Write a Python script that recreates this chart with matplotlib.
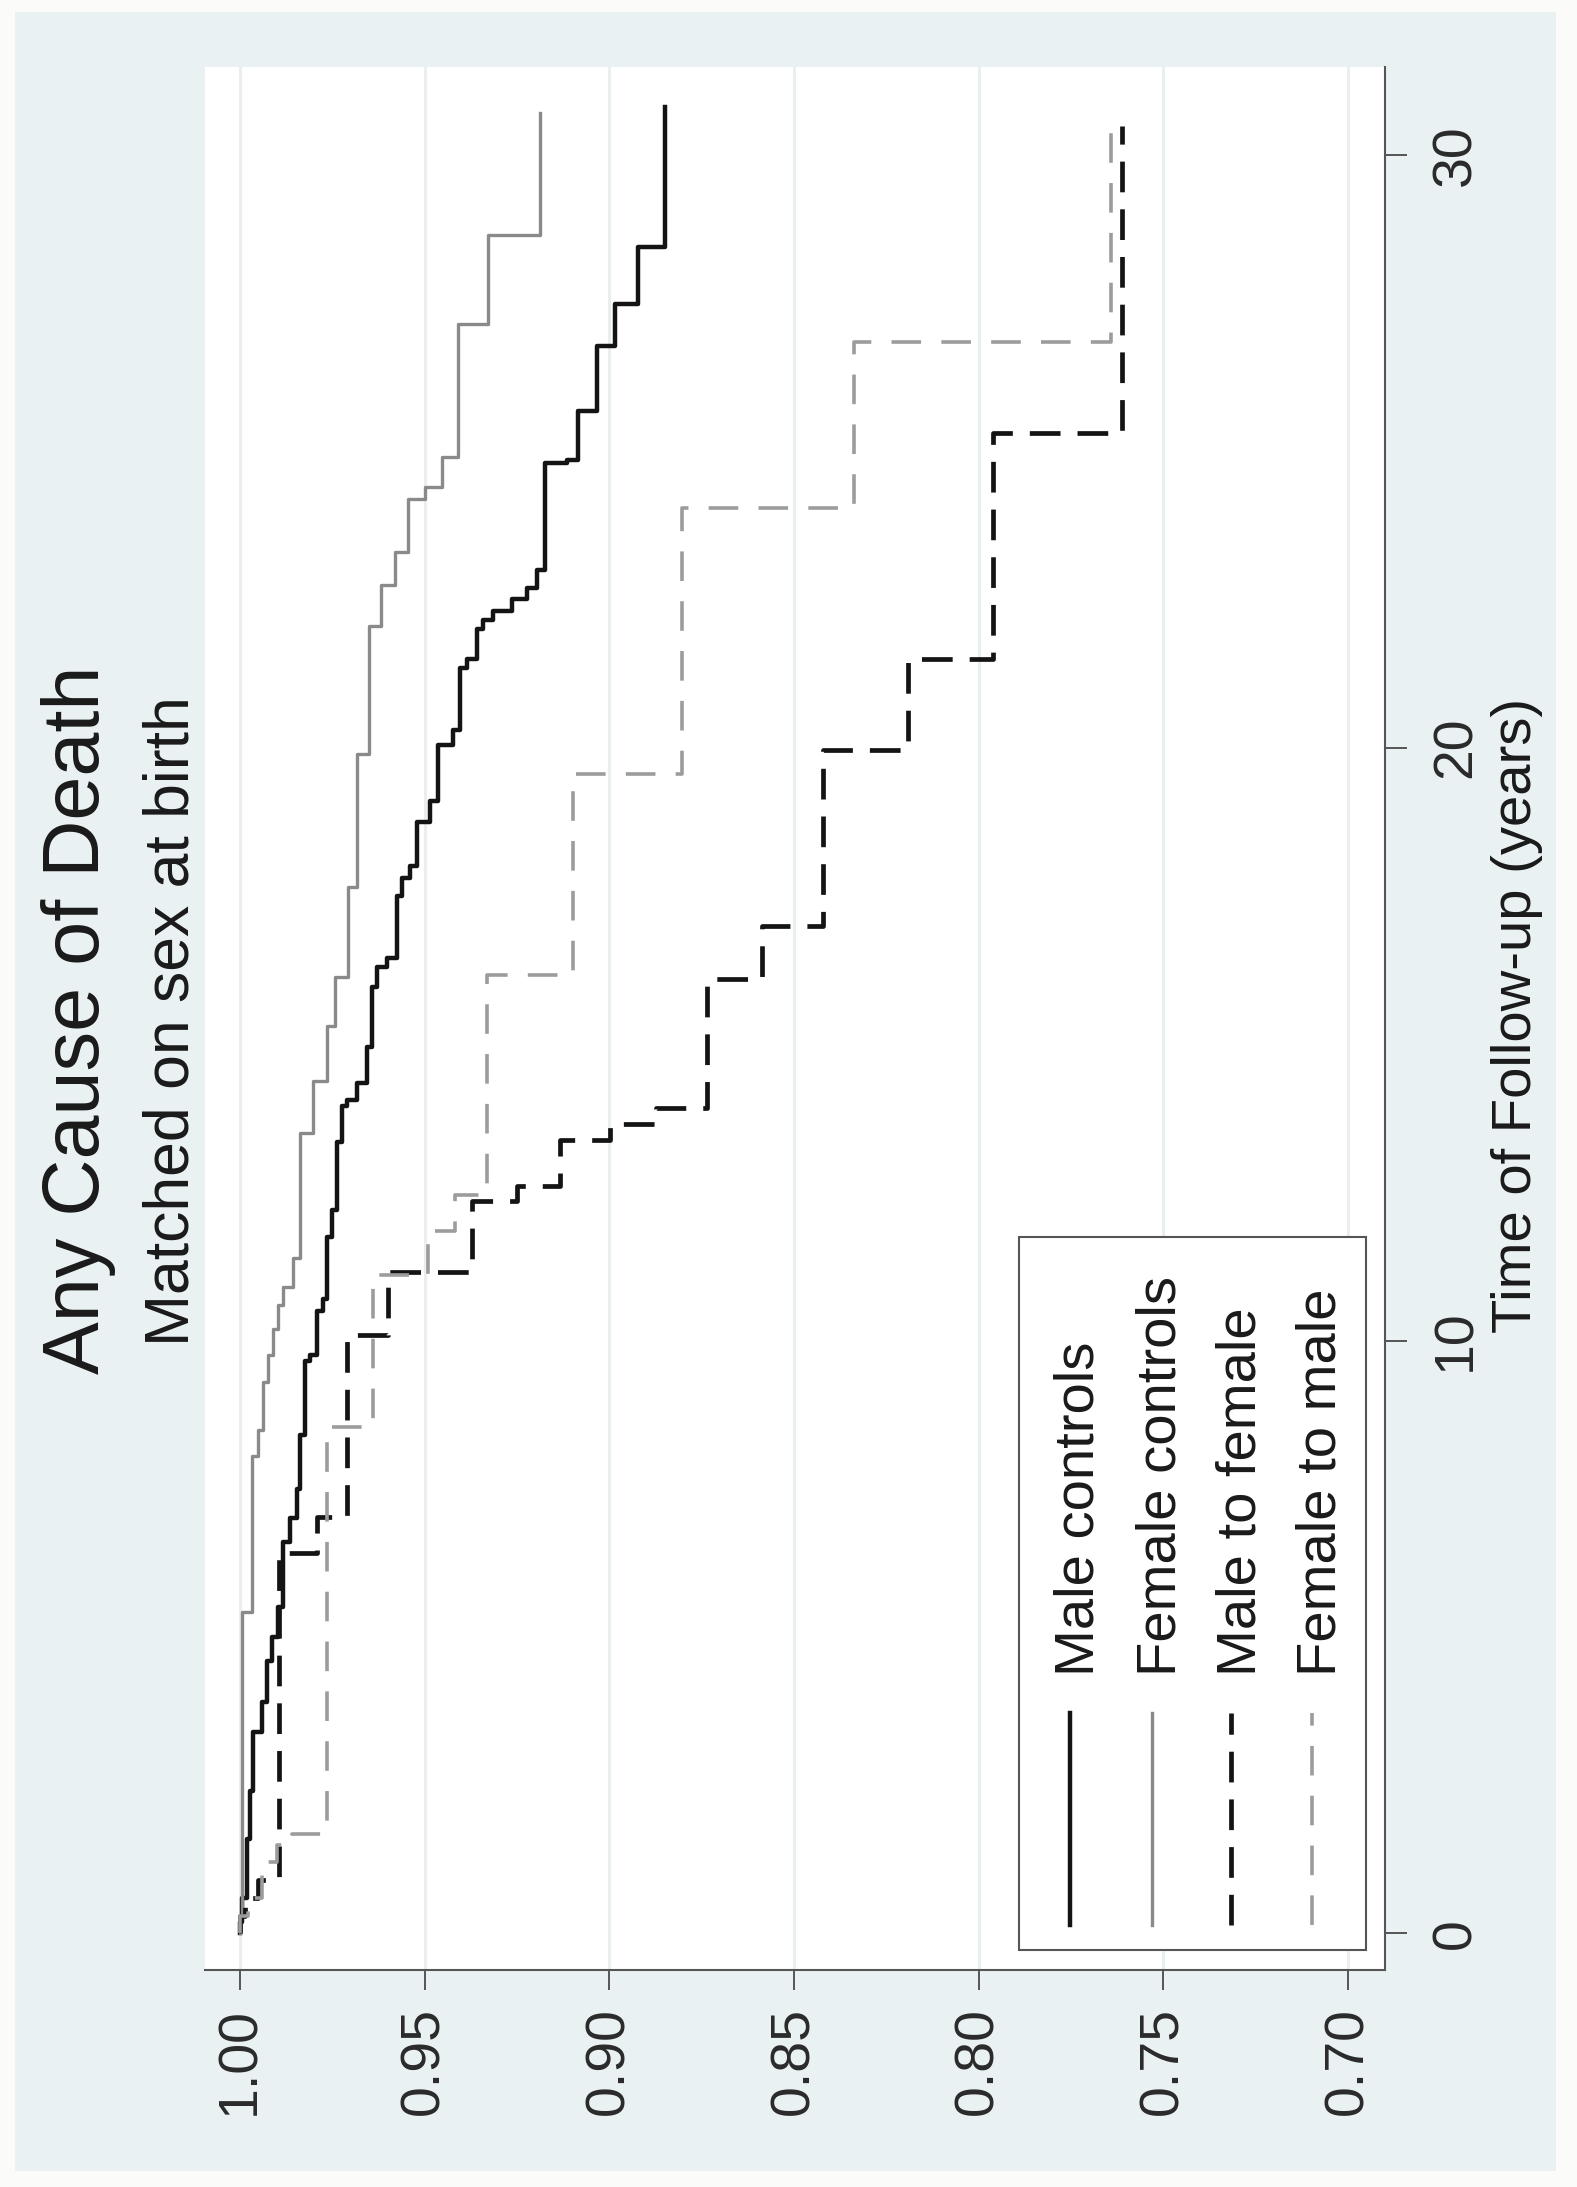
import matplotlib.pyplot as plt
from matplotlib.patches import Rectangle
from matplotlib.lines import Line2D

# Kaplan-Meier curves, read off the (rotated) Stata figure
# each list: event times (years) and the survival right after that event
male_ctrl_t = [0.2, 0.6, 1.6, 2.4, 3.4, 3.9, 4.6, 5.0, 5.5, 6.6, 7.0, 7.5, 8.4, 9.65,
               9.75, 10.5, 10.7, 11.75, 12.2, 13.35, 13.95, 14.05, 14.35, 14.95, 15.97,
               16.3, 16.45, 17.5, 17.8, 18.0, 18.75, 19.1, 20.05, 20.3, 21.35, 21.5,
               22.0, 22.15, 22.3, 22.5, 22.7, 23.0, 24.8, 24.85, 25.68, 26.78, 27.48, 28.45]
male_ctrl_s = [0.9995, 0.9981, 0.9973, 0.9965, 0.9940, 0.9927, 0.9913, 0.9897, 0.9884,
               0.9865, 0.9846, 0.9838, 0.9824, 0.9811, 0.9792, 0.9775, 0.9764, 0.9751,
               0.9737, 0.9724, 0.9710, 0.9683, 0.9656, 0.9643, 0.9629, 0.9602, 0.9575,
               0.9561, 0.9540, 0.9521, 0.9486, 0.9464, 0.9423, 0.9404, 0.9385, 0.9358,
               0.9342, 0.9315, 0.9264, 0.9223, 0.9196, 0.9174, 0.9115, 0.9085, 0.9033,
               0.8985, 0.8922, 0.8849]
male_ctrl_end = 30.8

female_ctrl_t = [0.3, 5.43, 8.05, 8.5, 9.3, 9.75, 10.2, 10.6, 10.9, 11.4, 13.5, 14.37,
                 15.3, 16.14, 17.65, 19.9, 22.06, 22.75, 23.3, 24.2, 24.4, 24.9, 27.15, 28.65]
female_ctrl_s = [0.9995, 0.9968, 0.9951, 0.9938, 0.9924, 0.9911, 0.9897, 0.9884, 0.9857,
                 0.9838, 0.9802, 0.9764, 0.9743, 0.9708, 0.9683, 0.9651, 0.9618, 0.9580,
                 0.9545, 0.9499, 0.9453, 0.9410, 0.9329, 0.9188]
female_ctrl_end = 30.7

mtf_t = [0.3, 0.6, 0.9, 6.42, 7.02, 10.1, 11.15, 12.35, 12.6, 13.38, 13.65, 13.93,
         16.1, 17.0, 19.96, 21.5, 25.3]
mtf_s = [0.9987, 0.9951, 0.9894, 0.9792, 0.9710, 0.9599, 0.9372, 0.9250, 0.9134,
         0.8998, 0.8874, 0.8735, 0.8587, 0.8421, 0.8191, 0.7961, 0.7612]
mtf_end = 30.48

ftm_t = [0.3, 0.6, 1.2, 1.5, 1.67, 8.55, 11.1, 11.84, 12.45, 16.17, 19.56, 24.05, 26.85]
ftm_s = [0.9978, 0.9940, 0.9900, 0.9859, 0.9764, 0.9640, 0.9491, 0.9418, 0.9331,
         0.9098, 0.8803, 0.8337, 0.7642]
ftm_end = 30.7

surv_ticks = [1.00, 0.95, 0.90, 0.85, 0.80, 0.75, 0.70]
surv_labels = ['1.00', '0.95', '0.90', '0.85', '0.80', '0.75', '0.70']
time_ticks = [0, 10, 20, 30]
time_labels = ['0', '10', '20', '30']

series_names = ['Male controls', 'Female controls', 'Male to female', 'Female to male']

W, H = 1577, 2187
FONT = ['Liberation Sans', 'DejaVu Sans']
plt.rcParams['font.family'] = FONT


def fx(px):
    return px / W


def fy(py):
    return 1 - py / H


styles = [
    dict(color='#141414', lw=3.2, linestyle='-'),
    dict(color='#8a8a8a', lw=2.4, linestyle='-'),
    dict(color='#141414', lw=3.4, linestyle=(0, (6.5, 3.6))),
    dict(color='#9c9c9c', lw=2.6, linestyle=(0, (8.2, 5.6))),
]

fig = plt.figure(figsize=(W / 100, H / 100), dpi=100)
fig.patch.set_facecolor('#fbfbf9')
fig.patches.append(Rectangle((fx(15), fy(2171)), fx(1556 - 15), (2171 - 12) / H,
                             transform=fig.transFigure, facecolor='#eaf1f3',
                             edgecolor='none', zorder=-10))

ax = fig.add_axes([fx(205), fy(1970), fx(1385 - 205), (1970 - 67) / H])
ax.set_facecolor('white')

# survival runs along the horizontal axis, time along the vertical one
curves = [(male_ctrl_t, male_ctrl_s, male_ctrl_end),
          (female_ctrl_t, female_ctrl_s, female_ctrl_end),
          (mtf_t, mtf_s, mtf_end),
          (ftm_t, ftm_s, ftm_end)]
draw_order = [1, 3, 2, 0]
for i in draw_order:
    t, s, t_end = curves[i]
    times = [0] + t + [t_end]
    survs = [1.0] + s + [s[-1]]
    ax.plot(survs, times, drawstyle='steps-pre', zorder=3 + i, **styles[i])

ax.set_xlim(1.0095, 0.69)
ax.set_ylim(-0.616, 31.48)

ax.set_xticks(surv_ticks, surv_labels)
ax.set_yticks(time_ticks, time_labels)
ax.yaxis.tick_right()
for v in surv_ticks:
    ax.axvline(v, color='#e9eef0', lw=2.2, zorder=1)

for side in ['top', 'left']:
    ax.spines[side].set_visible(False)
for side in ['bottom', 'right']:
    ax.spines[side].set_color('#555555')
    ax.spines[side].set_linewidth(1.5)

ax.tick_params(axis='x', direction='out', length=14.4, width=1.4, color='#555555',
               labelsize=40, labelrotation=90, pad=12, labelcolor='#2a2a2a')
ax.tick_params(axis='y', direction='out', length=15.8, width=1.4, color='#555555',
               labelsize=40, labelrotation=90, pad=17, labelcolor='#2a2a2a',
               right=True, left=False, labelright=True, labelleft=False)
plt.setp(ax.get_yticklabels(), va='center')

# titles, written sideways like the original
fig.text(fx(99), fy(1020), 'Any Cause of Death', rotation=90, rotation_mode='anchor',
         ha='center', va='baseline', fontsize=57, color='#1a1a1a')
fig.text(fx(189), fy(1021), 'Matched on sex at birth', rotation=90,
         rotation_mode='anchor', ha='center', va='baseline', fontsize=45, color='#1a1a1a')
fig.text(fx(1531), fy(1015), 'Time of Follow-up (years)', rotation=90,
         rotation_mode='anchor', ha='center', va='baseline', fontsize=40.5, color='#1a1a1a')

# legend box (rotated, so drawn by hand)
fig.patches.append(Rectangle((fx(1019), fy(1950)), fx(1366 - 1019), (1950 - 1237) / H,
                             transform=fig.transFigure, facecolor='white',
                             edgecolor='#555555', lw=1.5, zorder=5))
leg_x = [1070, 1152, 1231, 1312]
for i, name in enumerate(series_names):
    fig.add_artist(Line2D([fx(leg_x[i]), fx(leg_x[i])], [fy(1925), fy(1713)],
                          transform=fig.transFigure, zorder=6, **styles[i]))
    fig.text(fx(leg_x[i] + 24), fy(1676), name, rotation=90, rotation_mode='anchor',
             ha='left', va='baseline', fontsize=40.5, color='#1a1a1a', zorder=6)

fig.savefig('out.png', dpi=100, facecolor=fig.get_facecolor())
